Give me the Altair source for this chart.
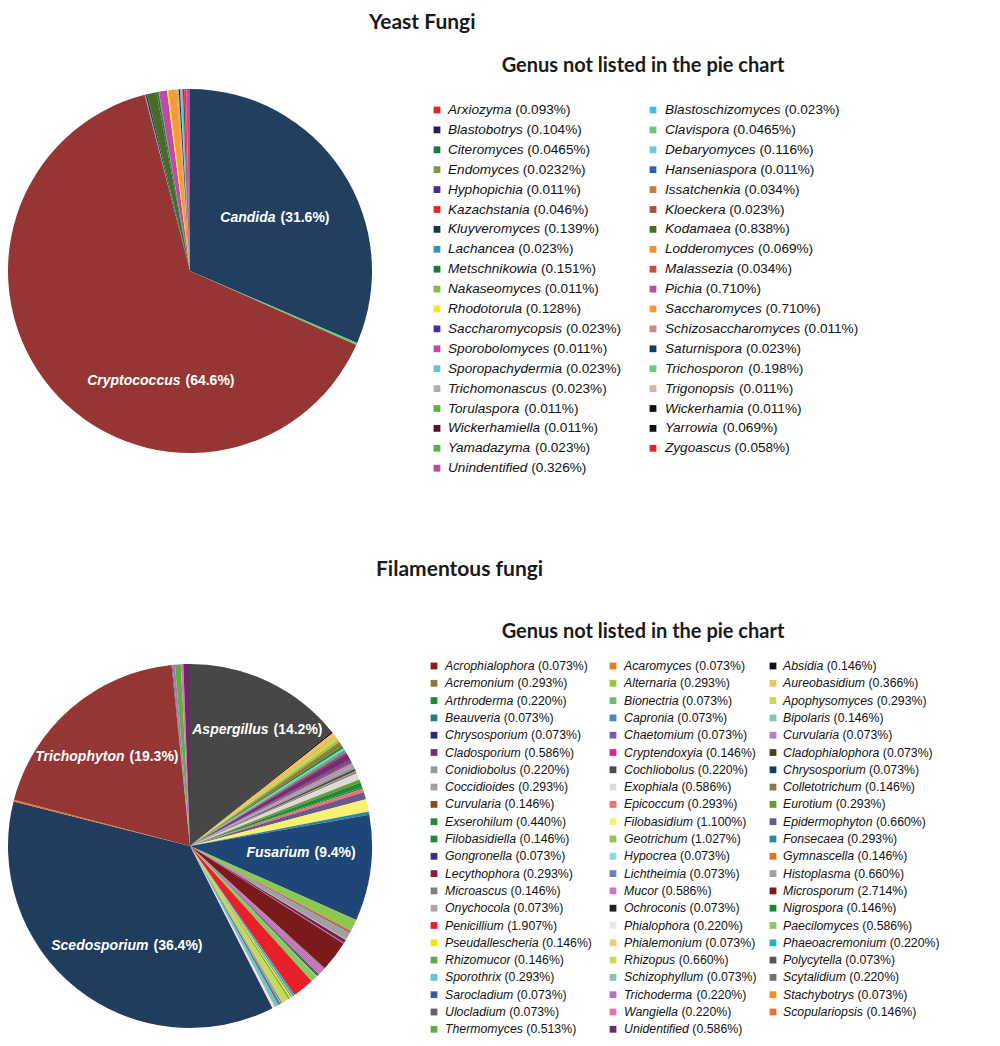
import altair as alt
import pandas as pd

M = 8  # page margin of the html page

# ---------------- Yeast fungi ----------------
yeast_major = ["Candida", "Cryptococcus"]
yeast_major_pct = [31.6, 64.6]
yeast_major_color = ["#21405F", "#963634"]

yeast_col1 = ["Arxiozyma", "Blastobotrys", "Citeromyces", "Endomyces", "Hyphopichia",
              "Kazachstania", "Kluyveromyces", "Lachancea", "Metschnikowia", "Nakaseomyces",
              "Rhodotorula", "Saccharomycopsis", "Sporobolomyces", "Sporopachydermia",
              "Trichomonascus", "Torulaspora", "Wickerhamiella", "Yamadazyma", "Unindentified"]
yeast_col1_pct = ["0.093%", "0.104%", "0.0465%", "0.0232%", "0.011%", "0.046%", "0.139%",
                  "0.023%", "0.151%", "0.011%", "0.128%", "0.023%", "0.011%", "0.023%",
                  "0.023%", "0.011%", "0.011%", "0.023%", "0.326%"]
yeast_col1_color = ["#E8202A", "#1F1F5F", "#1A7A3A", "#7A9A4A", "#4A2A8A", "#E8202A", "#16393A",
                    "#3A90B8", "#1A7A3A", "#8AB850", "#F5E620", "#4A2AA0", "#C04AA0", "#6AC0D8",
                    "#B0B0B0", "#5AB040", "#5A1020", "#5AB040", "#C04AA0"]

yeast_col2 = ["Blastoschizomyces", "Clavispora", "Debaryomyces", "Hanseniaspora", "Issatchenkia",
              "Kloeckera", "Kodamaea", "Lodderomyces", "Malassezia", "Pichia", "Saccharomyces",
              "Schizosaccharomyces", "Saturnispora", "Trichosporon", "Trigonopsis", "Wickerhamia",
              "Yarrowia", "Zygoascus"]
yeast_col2_pct = ["0.023%", "0.0465%", "0.116%", "0.011%", "0.034%", "0.023%", "0.838%", "0.069%",
                  "0.034%", "0.710%", "0.710%", "0.011%", "0.023%", "0.198%", "0.011%", "0.011%",
                  "0.069%", "0.058%"]
yeast_col2_color = ["#40C0D0", "#6AC878", "#6ACCD8", "#3A5AAA", "#C87A3A", "#B04A4A", "#4A6A2A",
                    "#F09030", "#C84A4A", "#C04AA8", "#F8983A", "#C88A8A", "#1A3A5A", "#6AC878",
                    "#D8B0B0", "#111111", "#111111", "#E8202A"]

yeast_pie_order = ["Candida", "Trichosporon", "Cryptococcus", "Sporopachydermia", "Lachancea",
                   "Blastoschizomyces", "Kluyveromyces", "Wickerhamiella", "Kodamaea", "Metschnikowia",
                   "Citeromyces", "Endomyces", "Pichia", "Sporobolomyces", "Rhodotorula", "Saccharomyces",
                   "Lodderomyces", "Issatchenkia", "Clavispora", "Yamadazyma", "Torulaspora",
                   "Nakaseomyces", "Blastobotrys", "Hyphopichia", "Saccharomycopsis", "Trichomonascus",
                   "Debaryomyces", "Hanseniaspora", "Kloeckera", "Malassezia", "Schizosaccharomyces",
                   "Saturnispora", "Trigonopsis", "Wickerhamia", "Yarrowia", "Zygoascus", "Arxiozyma",
                   "Kazachstania", "Unindentified"]

# ---------------- Filamentous fungi ----------------
fil_major = ["Aspergillus", "Fusarium", "Scedosporium", "Trichophyton"]
fil_major_pct = [14.2, 9.4, 36.4, 19.3]
fil_major_color = ["#474747", "#1E4777", "#203D5E", "#943634"]

fil_col1 = ["Acrophialophora", "Acremonium", "Arthroderma", "Beauveria", "Chrysosporium",
            "Cladosporium", "Conidiobolus", "Coccidioides", "Curvularia", "Exserohilum",
            "Filobasidiella", "Gongronella", "Lecythophora", "Microascus", "Onychocola",
            "Penicillium", "Pseudallescheria", "Rhizomucor", "Sporothrix", "Sarocladium",
            "Ulocladium", "Thermomyces"]
fil_col1_pct = ["0.073%", "0.293%", "0.220%", "0.073%", "0.073%", "0.586%", "0.220%", "0.293%",
                "0.146%", "0.440%", "0.146%", "0.073%", "0.293%", "0.146%", "0.073%", "1.907%",
                "0.146%", "0.146%", "0.293%", "0.073%", "0.073%", "0.513%"]
fil_col1_color = ["#8B1A1A", "#8B7A3A", "#1E8B3A", "#1A8080", "#2A2A7A", "#7B2A7B", "#9A9A9A",
                  "#A0A0A0", "#8B4A1A", "#1E8B3A", "#1E8B3A", "#3A2A8A", "#8B1A4A", "#808080",
                  "#AAAAAA", "#E8202A", "#F5E020", "#5AB040", "#5BC8E0", "#3A5AAA", "#606060",
                  "#5AB040"]

fil_col2 = ["Acaromyces", "Alternaria", "Bionectria", "Capronia", "Chaetomium", "Cryptendoxyia",
            "Cochliobolus", "Exophiala", "Epicoccum", "Filobasidium", "Geotrichum", "Hypocrea",
            "Lichtheimia", "Mucor", "Ochroconis", "Phialophora", "Phialemonium", "Rhizopus",
            "Schizophyllum", "Trichoderma", "Wangiella", "Unidentified"]
fil_col2_pct = ["0.073%", "0.293%", "0.073%", "0.073%", "0.073%", "0.146%", "0.220%", "0.586%",
                "0.293%", "1.100%", "1.027%", "0.073%", "0.073%", "0.586%", "0.073%", "0.220%",
                "0.073%", "0.660%", "0.073%", "0.220%", "0.220%", "0.586%"]
fil_col2_color = ["#E87A20", "#9AC840", "#6AC070", "#4A8AC0", "#7A5AB0", "#E0208A", "#4A4A4A",
                  "#DADADA", "#F07070", "#F8F070", "#8AC850", "#90D8E0", "#6A80C0", "#D070C0",
                  "#202020", "#E8E8F0", "#F5C870", "#C8D860", "#80C8A8", "#B070C0", "#E870B0",
                  "#6A2A6A"]

fil_col3 = ["Absidia", "Aureobasidium", "Apophysomyces", "Bipolaris", "Curvularia",
            "Cladophialophora", "Chrysosporium", "Colletotrichum", "Eurotium", "Epidermophyton",
            "Fonsecaea", "Gymnascella", "Histoplasma", "Microsporum", "Nigrospora", "Paecilomyces",
            "Phaeoacremonium", "Polycytella", "Scytalidium", "Stachybotrys", "Scopulariopsis"]
fil_col3_pct = ["0.146%", "0.366%", "0.293%", "0.146%", "0.073%", "0.073%", "0.073%", "0.146%",
                "0.293%", "0.660%", "0.293%", "0.146%", "0.660%", "2.714%", "0.146%", "0.586%",
                "0.220%", "0.073%", "0.220%", "0.073%", "0.146%"]
fil_col3_color = ["#111111", "#F5C060", "#C8D850", "#80C8B0", "#B080C8", "#3A4A20", "#1A3A6A",
                  "#8A7A4A", "#6A9A30", "#6A5A8A", "#2A8AA0", "#E87020", "#A0A0A0", "#7A1A1A",
                  "#1A8A3A", "#8AC860", "#20B0C8", "#555555", "#707070", "#F09020", "#E8702A"]

fil_pie_order = ["Aspergillus", "Absidia", "Aureobasidium", "Acaromyces", "Apophysomyces",
                 "Alternaria", "Acrophialophora", "Acremonium", "Arthroderma", "Bionectria",
                 "Bipolaris", "Beauveria", "Capronia", "Chaetomium", "Curvularia", "Cladosporium",
                 "Cladophialophora", "Chrysosporium", "Chrysosporium", "Cryptendoxyia",
                 "Coccidioides", "Conidiobolus", "Cochliobolus", "Curvularia", "Colletotrichum",
                 "Exophiala", "Eurotium", "Exserohilum", "Filobasidiella", "Epicoccum",
                 "Epidermophyton", "Filobasidium", "Fonsecaea", "Fusarium", "Geotrichum",
                 "Gymnascella", "Gongronella", "Histoplasma", "Hypocrea", "Lecythophora",
                 "Lichtheimia", "Microsporum", "Microascus", "Mucor", "Nigrospora", "Ochroconis",
                 "Onychocola", "Paecilomyces", "Penicillium", "Phaeoacremonium", "Phialemonium",
                 "Polycytella", "Pseudallescheria", "Rhizomucor", "Rhizopus", "Sarocladium",
                 "Schizophyllum", "Scytalidium", "Sporothrix", "Stachybotrys", "Phialophora",
                 "Scedosporium", "Scopulariopsis", "Trichophyton", "Ulocladium", "Trichoderma",
                 "Thermomyces", "Wangiella", "Unidentified"]

# ---------------- helpers ----------------
HELV = {" ": 278, "(": 333, ")": 333, "%": 889, ".": 278,
        "A": 667, "B": 667, "C": 722, "D": 722, "E": 667, "F": 611, "G": 778, "H": 722, "I": 278,
        "J": 500, "K": 667, "L": 556, "M": 833, "N": 722, "O": 778, "P": 667, "Q": 778, "R": 722,
        "S": 667, "T": 611, "U": 722, "V": 667, "W": 944, "X": 667, "Y": 667, "Z": 611,
        "a": 556, "b": 556, "c": 500, "d": 556, "e": 556, "f": 278, "g": 556, "h": 556, "i": 222,
        "j": 222, "k": 500, "l": 222, "m": 833, "n": 556, "o": 556, "p": 556, "q": 556, "r": 333,
        "s": 500, "t": 278, "u": 556, "v": 500, "w": 722, "x": 500, "y": 500, "z": 500}


def text_width(s, fs):
    return sum(HELV.get(c, 556) for c in s) * fs / 1000.0


def pie_frame(major, major_pct, major_color, cols, cols_pct, cols_color, order):
    pool = {}
    for names, pcts, colors in zip(cols, cols_pct, cols_color):
        for n, p, c in zip(names, pcts, colors):
            pool.setdefault(n, []).append((float(p.rstrip("%")), c))
    for n, p, c in zip(major, major_pct, major_color):
        pool.setdefault(n, []).append((p, c))
    rows = []
    for i, n in enumerate(order):
        v, c = pool[n].pop(0)
        rows.append({"genus": n, "value": v, "color": c, "ord": i})
    return pd.DataFrame(rows)


def legend_frame(cols, cols_pct, cols_color, sq_x, txt_x, y0, dy, fs):
    rows = []
    for ci, (names, pcts, colors) in enumerate(zip(cols, cols_pct, cols_color)):
        for ri, (n, p, c) in enumerate(zip(names, pcts, colors)):
            nx = txt_x[ci] - M
            rows.append({"sx": sq_x[ci] - M, "y": y0 + ri * dy - M, "name": n,
                         "pct": "(" + p + ")", "nx": nx,
                         "px": nx + text_width(n + " ", fs), "color": c, "fs": fs})
    return pd.DataFrame(rows)


yeast_pie = pie_frame(yeast_major, yeast_major_pct, yeast_major_color,
                      [yeast_col1, yeast_col2], [yeast_col1_pct, yeast_col2_pct],
                      [yeast_col1_color, yeast_col2_color], yeast_pie_order)
fil_pie = pie_frame(fil_major, fil_major_pct, fil_major_color,
                    [fil_col1, fil_col2, fil_col3], [fil_col1_pct, fil_col2_pct, fil_col3_pct],
                    [fil_col1_color, fil_col2_color, fil_col3_color], fil_pie_order)

yeast_leg = legend_frame([yeast_col1, yeast_col2], [yeast_col1_pct, yeast_col2_pct],
                         [yeast_col1_color, yeast_col2_color],
                         [437, 653], [448, 665], 110, 19.9, 13.6)
fil_leg = legend_frame([fil_col1, fil_col2, fil_col3], [fil_col1_pct, fil_col2_pct, fil_col3_pct],
                       [fil_col1_color, fil_col2_color, fil_col3_color],
                       [434, 613, 773], [445, 624, 783], 666, 17.3, 12.3)
legend = pd.concat([yeast_leg, fil_leg], ignore_index=True)

# pie labels (split point between italic name and percentage)
lab_name = ["Candida", "Cryptococcus", "Aspergillus", "Trichophyton", "Fusarium", "Scedosporium"]
lab_pct = ["(31.6%)", "(64.6%)", "(14.2%)", "(19.3%)", "(9.4%)", "(36.4%)"]
lab_x = [278, 183, 271, 127, 312, 151]
lab_y = [218, 381, 730, 757, 853, 946]
labels = pd.DataFrame({"name": lab_name, "pct": lab_pct,
                       "x": [v - M for v in lab_x], "y": [v - M for v in lab_y]})

titles = pd.DataFrame({"text": ["Yeast Fungi", "Filamentous fungi"],
                       "x": [369 - M, 376 - M], "y": [29 - M, 576 - M]})
headings = pd.DataFrame({"text": ["Genus not listed in the pie chart"] * 2,
                         "x": [643 - M, 643 - M], "y": [72 - M, 638 - M]})

FONT = "Liberation Sans"
R = 182
YC = (190 - M, 271 - M)
FC = (190 - M, 846 - M)


def pie(df, c):
    return alt.Chart(df).mark_arc(outerRadius=R).encode(
        theta=alt.Theta("value:Q", stack=True),
        order=alt.Order("ord:Q"),
        color=alt.Color("color:N", scale=None),
        x=alt.value(c[0]), y=alt.value(c[1]),
    )


px_x = lambda f: alt.X(f, scale=None, axis=None)
px_y = lambda f: alt.Y(f, scale=None, axis=None)

yeast_arc = pie(yeast_pie, YC)
fil_arc = pie(fil_pie, FC)

lab_n = alt.Chart(labels).mark_text(font=FONT, fontSize=14, fontWeight="bold", fontStyle="italic",
                                    color="white", align="right", baseline="middle", dx=-2.5).encode(
    x=px_x("x:Q"), y=px_y("y:Q"), text="name:N")
lab_p = alt.Chart(labels).mark_text(font=FONT, fontSize=14, fontWeight="bold",
                                    color="white", align="left", baseline="middle", dx=2.5).encode(
    x=px_x("x:Q"), y=px_y("y:Q"), text="pct:N")

leg_sq = alt.Chart(legend).mark_square(size=46, opacity=1).encode(
    x=px_x("sx:Q"), y=px_y("y:Q"), color=alt.Color("color:N", scale=None))
leg_n = alt.Chart(legend).mark_text(font=FONT, fontStyle="italic", align="left", baseline="middle",
                                    color="#111111").encode(
    x=px_x("nx:Q"), y=px_y("y:Q"), text="name:N", size=alt.Size("fs:Q", scale=None))
leg_p = alt.Chart(legend).mark_text(font=FONT, align="left", baseline="middle",
                                    color="#111111").encode(
    x=px_x("px:Q"), y=px_y("y:Q"), text="pct:N", size=alt.Size("fs:Q", scale=None))

title_m = alt.Chart(titles).mark_text(font="Lato", fontSize=21, fontWeight="bold", align="left",
                                      baseline="alphabetic", color="#1a1a1a").encode(
    x=px_x("x:Q"), y=px_y("y:Q"), text="text:N")
head_m = alt.Chart(headings).mark_text(font="Lato", fontSize=20, fontWeight="bold", align="center",
                                       baseline="alphabetic", color="#1a1a1a").encode(
    x=px_x("x:Q"), y=px_y("y:Q"), text="text:N")

chart = alt.layer(yeast_arc, fil_arc, lab_n, lab_p, leg_sq, leg_n, leg_p, title_m, head_m).resolve_scale(
    theta="independent"
).properties(
    width=984, height=1030, autosize=alt.AutoSizeParams(type="none"), padding=0,
    background="white"
).configure_view(strokeWidth=0)

chart.save("out.html", embed_options={"renderer": "svg", "actions": False})
